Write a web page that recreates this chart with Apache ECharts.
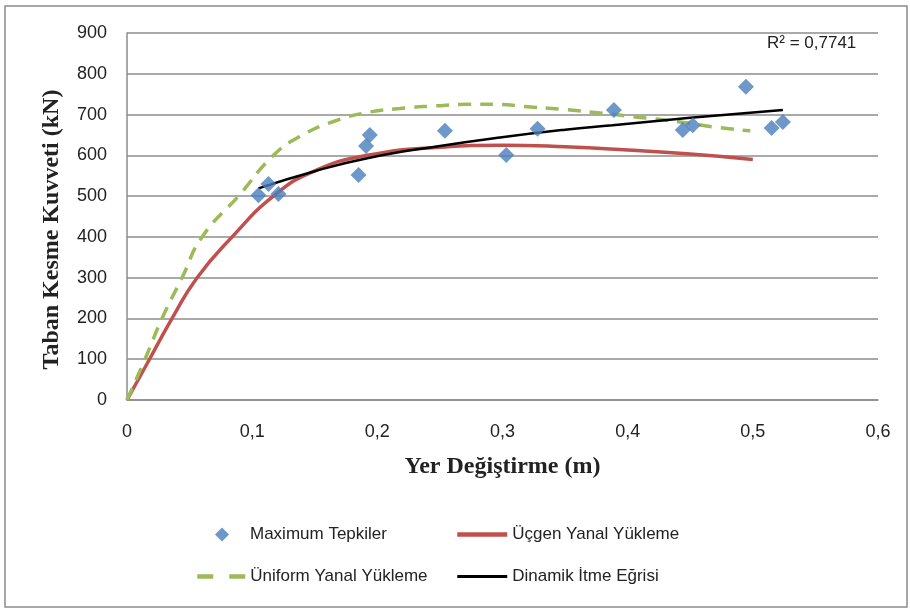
<!DOCTYPE html>
<html>
<head>
<meta charset="utf-8">
<script src="https://cdn.jsdelivr.net/npm/echarts@6/dist/echarts.min.js"></script>
<style>
    html, body {margin: 0; padding: 0; background: #fff;}
    #chart {width: 910px; height: 610px;}
</style>
</head>
<body>
<div id="chart"></div>
<script>
// 最大反应点 (x: 位移 m, y: kN)
const maxTepkiler = [
    [0.105, 502], [0.113, 530], [0.121, 505], [0.185, 552], [0.191, 623],
    [0.194, 650], [0.254, 660], [0.303, 601], [0.328, 665], [0.389, 711],
    [0.444, 662], [0.452, 674], [0.4945, 768], [0.515, 667], [0.524, 682]
];
// 三角形侧向加载曲线
const ucgenYanal = [
    [0, 0], [0.018, 100], [0.036, 200], [0.056, 300], [0.084, 400],
    [0.117, 500], [0.15, 562], [0.192, 600], [0.25, 620], [0.3, 625],
    [0.35, 621], [0.4, 613], [0.45, 603], [0.5, 590]
];
// 均匀侧向加载曲线
const uniformYanal = [
    [0, 0], [0.0144, 100], [0.028, 200], [0.044, 300], [0.06, 400],
    [0.089, 500], [0.117, 600], [0.138, 646], [0.165, 683], [0.192, 705],
    [0.218, 715], [0.245, 721], [0.272, 725], [0.298, 725], [0.316, 720],
    [0.348, 713], [0.38, 703], [0.41, 693], [0.442, 682], [0.468, 670], [0.498, 660]
];
// 动力推覆曲线 (趋势线)
const dinamikItme = [
    [0.105, 519], [0.15, 561], [0.192, 593], [0.25, 623], [0.298, 644],
    [0.35, 663], [0.388, 674], [0.45, 692], [0.524, 711]
];
const r2Text = 'R² = 0,7741';

var chartDom = document.getElementById('chart');
var myChart = echarts.init(chartDom, null, {renderer: 'canvas'});
var sansFont = 'Liberation Sans, sans-serif';
var serifFont = 'Liberation Serif, serif';
// 图例中的线条不显示圆点
var noDot = {opacity: 0};
var legendText = {fontSize: 17, fontFamily: sansFont, color: '#222'};
var option;

option = {
    animation: false,
    backgroundColor: '#fff',
    graphic: [
        {
            type: 'rect',
            shape: {x: 5, y: 6, width: 902, height: 601},
            style: {fill: 'none', stroke: '#8c8c8c', lineWidth: 1.5},
            silent: true
        },
        {
            type: 'text',
            left: 767,
            top: 35,
            style: {text: r2Text, fill: '#222', font: '17px ' + sansFont}
        }
    ],
    grid: {left: 127, right: 32, top: 33, bottom: 210},
    legend: [
        {
            left: 210,
            top: 521,
            itemWidth: 14,
            itemHeight: 14,
            textStyle: Object.assign({padding: [0, 0, 0, 16]}, legendText),
            data: ['Maximum Tepkiler']
        },
        {
            left: 190,
            top: 563,
            itemWidth: 48,
            itemHeight: 14,
            textStyle: legendText,
            data: [{
                name: 'Üniform Yanal Yükleme',
                itemStyle: noDot,
                lineStyle: {width: 4.5, type: [16, 16]}
            }]
        },
        {
            orient: 'vertical',
            left: 450,
            top: 521,
            itemWidth: 50,
            itemHeight: 14,
            itemGap: 25,
            textStyle: legendText,
            data: [
                {name: 'Üçgen Yanal Yükleme', itemStyle: noDot, lineStyle: {width: 4.5}},
                {name: 'Dinamik İtme Eğrisi', itemStyle: noDot, lineStyle: {width: 3}}
            ]
        }
    ],
    xAxis: {
        type: 'value',
        min: 0,
        max: 0.6,
        interval: 0.1,
        name: 'Yer Değiştirme (m)',
        nameLocation: 'middle',
        nameGap: 55,
        nameTextStyle: {fontFamily: serifFont, fontWeight: 'bold', fontSize: 24, color: '#222'},
        axisLine: {show: true, lineStyle: {color: '#8c8c8c', width: 1.5}},
        axisTick: {show: false},
        splitLine: {show: false},
        axisLabel: {
            fontSize: 18, fontFamily: sansFont, color: '#222', margin: 23,
            formatter: function (v) { return String(+v.toFixed(1)).replace('.', ','); }
        }
    },
    yAxis: {
        type: 'value',
        min: 0,
        max: 900,
        interval: 100,
        name: 'Taban Kesme Kuvveti (kN)',
        nameLocation: 'middle',
        nameGap: 63,
        nameTextStyle: {
            fontFamily: serifFont, fontWeight: 'bold', fontSize: 24, color: '#222',
            padding: [0, 26, 0, 0]
        },
        axisLine: {show: true, lineStyle: {color: '#8c8c8c', width: 1.5}},
        axisTick: {show: false},
        splitLine: {lineStyle: {color: '#8c8c8c', width: 1.5}},
        axisLabel: {fontSize: 18, fontFamily: sansFont, color: '#222', margin: 20}
    },
    series: [
        {
            name: 'Maximum Tepkiler',
            type: 'scatter',
            symbol: 'diamond',
            symbolSize: 16,
            itemStyle: {color: '#4a7ebb'},
            data: maxTepkiler,
            z: 5
        },
        {
            name: 'Üçgen Yanal Yükleme',
            type: 'line',
            smooth: true,
            symbol: 'none',
            lineStyle: {color: '#c0504d', width: 3.5},
            itemStyle: {color: '#c0504d'},
            data: ucgenYanal
        },
        {
            name: 'Üniform Yanal Yükleme',
            type: 'line',
            smooth: true,
            symbol: 'none',
            lineStyle: {color: '#9bbb59', width: 3.5, type: [13, 9]},
            itemStyle: {color: '#9bbb59'},
            data: uniformYanal
        },
        {
            name: 'Dinamik İtme Eğrisi',
            type: 'line',
            smooth: true,
            symbol: 'none',
            lineStyle: {color: '#000', width: 2.5},
            itemStyle: {color: '#000'},
            data: dinamikItme
        }
    ]
};

option && myChart.setOption(option);
</script>
</body>
</html>
